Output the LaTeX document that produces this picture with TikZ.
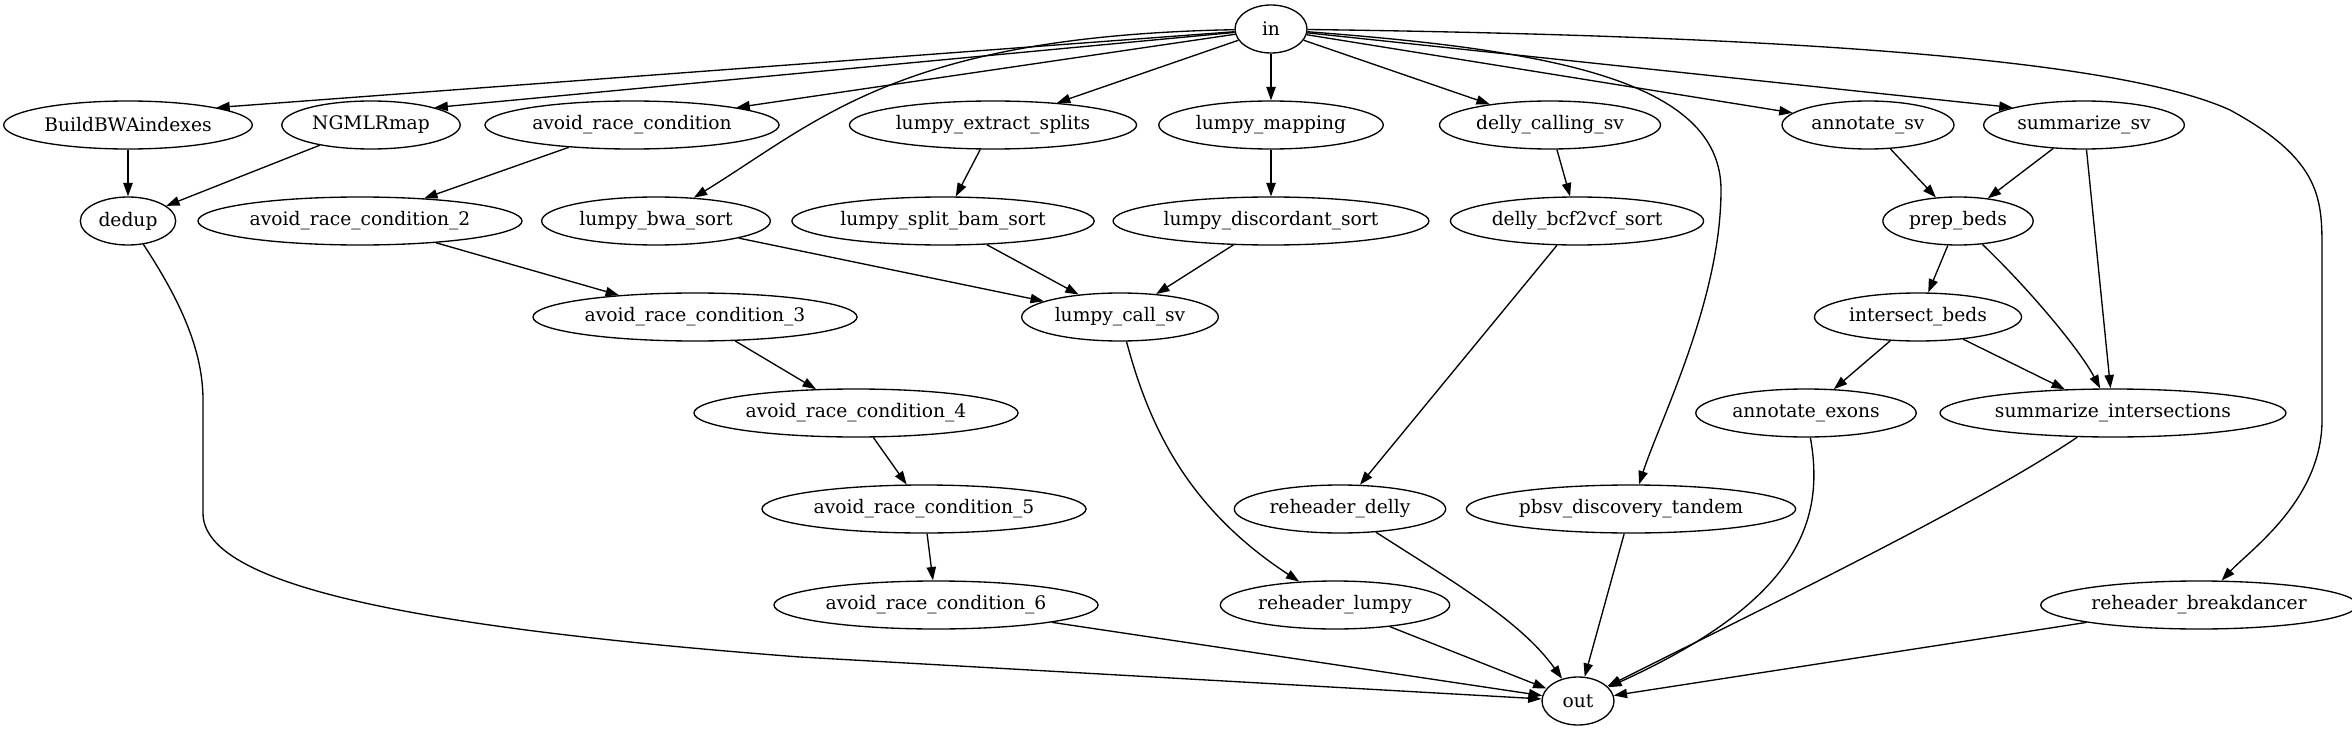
\documentclass[tikz,border=0pt]{standalone}
\usepackage{fontspec}
\setmainfont{DejaVu Serif}
\usetikzlibrary{arrows.meta,shapes.geometric}

\begin{document}
\begin{tikzpicture}[x=0.75pt,y=-0.75pt,
        job/.style={draw,ellipse,line width=1pt,minimum width=54pt,minimum height=36pt,inner xsep=3.2pt,inner ysep=1pt,font=\fontsize{14pt}{16pt}\selectfont},
        dep/.style={line width=1pt,-{Triangle[length=10pt,width=7pt]}}]
            \useasboundingbox (0,0) rectangle (2352,731);
            % nodes, row by row
            \node[job] (in) at (1271,29) {in};
            \node[job] (bwaidx) at (128,125) {BuildBWAindexes};
            \node[job] (ngmlr) at (371,125) {NGMLRmap};
            \node[job] (arc1) at (632,125) {avoid\_race\_condition};
            \node[job] (lextract) at (993,125) {lumpy\_extract\_splits};
            \node[job] (lmap) at (1271,125) {lumpy\_mapping};
            \node[job] (dcall) at (1550,125) {delly\_calling\_sv};
            \node[job] (annsv) at (1868,125) {annotate\_sv};
            \node[job] (sumsv) at (2084,125) {summarize\_sv};
            \node[job] (dedup) at (128,221) {dedup};
            \node[job] (arc2) at (360,221) {avoid\_race\_condition\_2};
            \node[job] (lbwa) at (656,221) {lumpy\_bwa\_sort};
            \node[job] (lsplit) at (943,221) {lumpy\_split\_bam\_sort};
            \node[job] (ldisc) at (1271,221) {lumpy\_discordant\_sort};
            \node[job] (dbcf) at (1577,221) {delly\_bcf2vcf\_sort};
            \node[job] (prep) at (1958,221) {prep\_beds};
            \node[job] (arc3) at (695,317) {avoid\_race\_condition\_3};
            \node[job] (lcall) at (1120,317) {lumpy\_call\_sv};
            \node[job] (isect) at (1918,317) {intersect\_beds};
            \node[job] (arc4) at (856,413) {avoid\_race\_condition\_4};
            \node[job] (annex) at (1806,413) {annotate\_exons};
            \node[job] (sumisect) at (2113,413) {summarize\_intersections};
            \node[job] (arc5) at (924,509) {avoid\_race\_condition\_5};
            \node[job] (rdelly) at (1340,509) {reheader\_delly};
            \node[job] (pbsv) at (1631,509) {pbsv\_discovery\_tandem};
            \node[job] (arc6) at (936,605) {avoid\_race\_condition\_6};
            \node[job] (rlumpy) at (1335,605) {reheader\_lumpy};
            \node[job] (rbreak) at (2199,605) {reheader\_breakdancer};
            \node[job] (out) at (1578,701) {out};
            % edges out of in
            \draw[dep] (in) -- (bwaidx.north east);
            \draw[dep] (in) -- (ngmlr.north east);
            \draw[dep] (in) -- (arc1.north east);
            \draw[dep] (in) .. controls (900,36) and (820,120) .. (lbwa);
            \draw[dep] (in) -- (lextract);
            \draw[dep] (in) -- (lmap);
            \draw[dep] (in) -- (dcall);
            \draw[dep] (in) .. controls (1550,50) and (1721,80) .. (1721,190) .. controls (1721,300) and (1660,420) .. (pbsv);
            \draw[dep] (in) -- (annsv);
            \draw[dep] (in) -- (sumsv.north west);
            \draw[dep] (in) .. controls (1800,36) and (2120,60) .. (2230,110) .. controls (2322,160) and (2322,200) .. (2322,250) -- (2322,420) .. controls (2322,500) and (2250,550) .. (rbreak);
            % mapping and race chain
            \draw[dep] (bwaidx) -- (dedup);
            \draw[dep] (ngmlr) -- (dedup);
            \draw[dep] (dedup) .. controls (180,300) and (203,350) .. (203,400) -- (203,513) .. controls (203,580) and (380,625) .. (800,657) -- (out);
            \draw[dep] (arc1) -- (arc2);
            \draw[dep] (arc2) -- (arc3);
            \draw[dep] (arc3) -- (arc4);
            \draw[dep] (arc4) -- (arc5);
            \draw[dep] (arc5) -- (arc6);
            \draw[dep] (arc6) -- (out);
            % lumpy
            \draw[dep] (lextract) -- (lsplit);
            \draw[dep] (lmap) -- (ldisc);
            \draw[dep] (lbwa) -- (lcall);
            \draw[dep] (lsplit) -- (lcall);
            \draw[dep] (ldisc) -- (lcall);
            \draw[dep] (lcall) .. controls (1150,430) and (1190,510) .. (rlumpy);
            \draw[dep] (rlumpy) -- (out);
            % delly and pbsv
            \draw[dep] (dcall) -- (dbcf);
            \draw[dep] (dbcf) -- (rdelly);
            \draw[dep] (rdelly) .. controls (1450,580) and (1520,620) .. (out);
            \draw[dep] (pbsv) -- (out);
            % beds
            \draw[dep] (annsv) -- (prep);
            \draw[dep] (sumsv) -- (prep);
            \draw[dep] (sumsv) -- (sumisect);
            \draw[dep] (prep) -- (isect);
            \draw[dep] (prep) .. controls (2030,290) and (2080,350) .. (sumisect);
            \draw[dep] (isect) -- (annex);
            \draw[dep] (isect) -- (sumisect);
            \draw[dep] (annex) .. controls (1825,520) and (1800,600) .. (out);
            \draw[dep] (sumisect) .. controls (1980,503) and (1780,600) .. (out);
            \draw[dep] (rbreak) -- (out);
        \end{tikzpicture}
\end{document}
